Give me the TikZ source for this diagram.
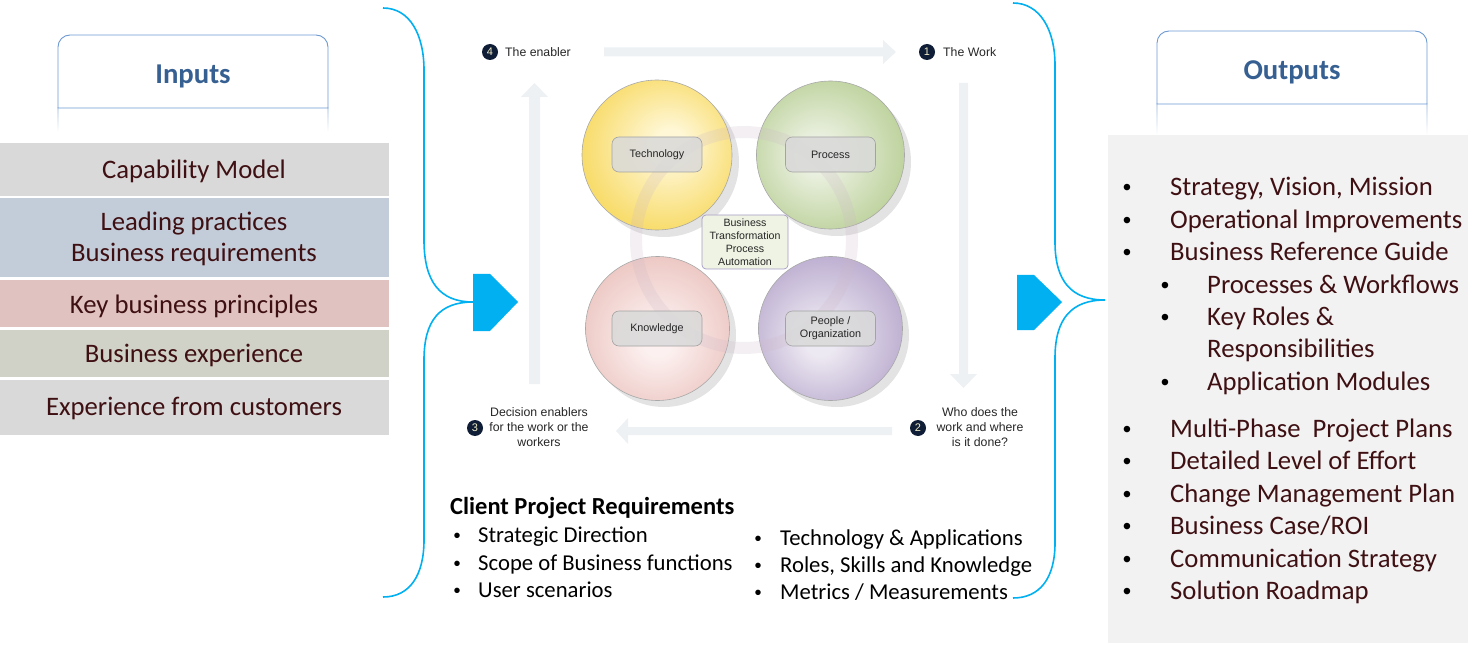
\documentclass[tikz,border=0pt]{standalone}
\usepackage{fontspec}
\setmainfont{Carlito}
\newfontfamily\arialf{Liberation Sans}
\definecolor{bracec}{HTML}{00B0F0}
\definecolor{hdrline}{HTML}{6E9AD2}
\definecolor{hdrfade}{HTML}{D5E1F0}
\definecolor{hdrtext}{HTML}{376092}
\definecolor{maroon}{HTML}{3F1013}
\definecolor{rowA}{HTML}{D9D9D9}
\definecolor{rowB}{HTML}{C3CDD9}
\definecolor{rowC}{HTML}{E0C3C0}
\definecolor{rowD}{HTML}{D0D2C8}
\definecolor{panelc}{HTML}{F2F2F2}
\definecolor{flowc}{HTML}{EDF1F4}
\definecolor{badgec}{HTML}{0F1D36}
\definecolor{badgetxt}{HTML}{F2EFC8}
\definecolor{ringc}{HTML}{CDB8C8}
\definecolor{lbl}{HTML}{D9D9D9}
\definecolor{lblline}{HTML}{A3A3A3}
\definecolor{ctrfill}{HTML}{EEF3E3}
\definecolor{ctrline}{HTML}{A79BC6}
\definecolor{circedge}{HTML}{A8A8A8}
\definecolor{shadowc}{HTML}{D0D0D0}
\definecolor{ylo}{HTML}{FFF7D6}
\definecolor{yhi}{HTML}{F8DC6C}
\definecolor{glo}{HTML}{EDF2E4}
\definecolor{ghi}{HTML}{BFD39F}
\definecolor{plo}{HTML}{FCF1F0}
\definecolor{phi}{HTML}{EDC9C5}
\definecolor{vlo}{HTML}{EDE9F2}
\definecolor{vhi}{HTML}{BFB1D2}
\pgfdeclareradialshading{yball}{\pgfpoint{5bp}{4bp}}{color(0bp)=(ylo); color(5bp)=(ylo); color(27bp)=(yhi); color(50bp)=(yhi)}
\pgfdeclareradialshading{gball}{\pgfpoint{-5bp}{0bp}}{color(0bp)=(glo); color(5bp)=(glo); color(27bp)=(ghi); color(50bp)=(ghi)}
\pgfdeclareradialshading{pball}{\pgfpoint{0bp}{-5bp}}{color(0bp)=(plo); color(5bp)=(plo); color(27bp)=(phi); color(50bp)=(phi)}
\pgfdeclareradialshading{vball}{\pgfpoint{-4bp}{-5bp}}{color(0bp)=(vlo); color(5bp)=(vlo); color(27bp)=(vhi); color(50bp)=(vhi)}
\begin{document}
\begin{tikzpicture}[x=1pt,y=-1pt,
  rowbox/.style={rectangle, inner sep=0, minimum width=389pt, anchor=north west},
  intxt/.style={anchor=base, text=maroon, font=\fontsize{26.7}{31}\selectfont},
  outtxt/.style={anchor=base west, text=maroon, inner sep=0, font=\fontsize{26.7}{31}\selectfont},
  outbul/.style={anchor=base, text=black, inner sep=0, font=\arialf\fontsize{24}{31}\selectfont},
  reqtxt/.style={anchor=base west, inner sep=0, font=\fontsize{22.7}{28}\selectfont},
  reqbul/.style={anchor=base, inner sep=0, font=\arialf\fontsize{20}{28}\selectfont},
  hdrtxt/.style={anchor=base, text=hdrtext, font=\bfseries\fontsize{28.7}{34}\selectfont},
  smalltxt/.style={font=\arialf\fontsize{12.3}{15}\selectfont, text=black!85, inner sep=0, align=center},
  badge/.style={circle, fill=badgec, inner sep=0, minimum size=16pt, text=badgetxt, font=\arialf\fontsize{11}{11}\selectfont},
  ball/.style={circle, inner sep=0, minimum size=#1, draw=circedge, line width=0.6pt},
  shadowball/.style={circle, inner sep=0, minimum size=#1, fill=shadowc, fill opacity=0.6},
  lblbox/.style={rectangle, rounded corners=7pt, minimum width=90pt, minimum height=35pt, fill=lbl, fill opacity=0.85, text opacity=1, draw=lblline, line width=0.6pt, font=\arialf\fontsize{10.8}{13}\selectfont, align=center, text=black!85},
  bracel/.style={draw=bracec, line width=1.6pt},
  flowarrow/.style={fill=flowc}
]
\useasboundingbox (0,0) rectangle (1484,647);

% ---------- Inputs header ----------
\shade[top color=hdrfade, bottom color=white] (57.4,108) rectangle (58.6,132);
\shade[top color=hdrfade, bottom color=white] (327.4,108) rectangle (328.6,132);
\draw[hdrline, fill=white, line width=0.9pt] (58,108) -- (58,60) [rounded corners=12pt] -- (58,35) -- (328,35) -- (328,60) [sharp corners] -- (328,108) -- cycle;
\node[hdrtxt] (inhdr) at (193,83.2) {Inputs};

% ---------- Input rows ----------
\node[rowbox, fill=rowA, minimum height=53pt] (row1) at (0,143) {};
\node[rowbox, fill=rowB, minimum height=79pt] (row2) at (0,198) {};
\node[rowbox, fill=rowC, minimum height=47pt] (row3) at (0,280) {};
\node[rowbox, fill=rowD, minimum height=47pt] (row4) at (0,330) {};
\node[rowbox, fill=rowA, minimum height=55pt] (row5) at (0,380) {};
\node[intxt] (t1) at (194,178.6) {Capability Model};
\node[intxt] (t2a) at (194,230.6) {Leading practices};
\node[intxt] (t2b) at (194,261.6) {Business requirements};
\node[intxt] (t3) at (194,313.6) {Key business principles};
\node[intxt] (t4) at (194,362.6) {Business experience};
\node[intxt] (t5) at (194,415.6) {Experience from customers};

% ---------- Outputs header and panel ----------
\shade[top color=hdrfade, bottom color=white] (1156.4,104) rectangle (1157.6,135);
\shade[top color=hdrfade, bottom color=white] (1426.4,104) rectangle (1427.6,135);
\draw[hdrline, fill=white, line width=0.9pt] (1157,104) -- (1157,60) [rounded corners=12pt] -- (1157,31) -- (1427,31) -- (1427,60) [sharp corners] -- (1427,104) -- cycle;
\node[hdrtxt] (outhdr) at (1292,79.2) {Outputs};
\node[rectangle, fill=panelc, inner sep=0, minimum width=360pt, minimum height=508pt, anchor=north west] (panel) at (1108,135) {};

\foreach \y/\t [count=\i] in {187/{Strategy, Vision, Mission}, 220/{Operational Improvements}, 252/{Business Reference Guide}, 429/{Multi-Phase\ \ Project Plans}, 461/{Detailed Level of Effort}, 494/{Change Management Plan}, 526/{Business Case/ROI}, 559/{Communication Strategy}, 591/{Solution Roadmap}}{
  \node[outbul] (ob\i) at (1127,\y+8.6) {•};
  \node[outtxt] (ot\i) at (1170,\y+8.6) {\t};
}
\foreach \y/\t [count=\i] in {285/{Processes \& Workflows}, 317/{Key Roles \&}, 382/{Application Modules}}{
  \node[outbul] (sb\i) at (1165,\y+8.6) {•};
  \node[outtxt] (st\i) at (1207,\y+8.6) {\t};
}
\node[outtxt] (st4) at (1207,349+8.6) {Responsibilities};

% ---------- Braces and chevrons ----------
\draw[bracel] (383,8) .. controls (410,8) and (424,35) .. (424,70) -- (424,240) .. controls (424,282) and (440,302) .. (473,302);
\draw[bracel] (473,302) .. controls (440,302) and (424,320) .. (424,360) -- (424,540) .. controls (424,575) and (410,597) .. (383,597);
\fill[bracec] (473,274) -- (490,274) -- (518,302) -- (490,331) -- (473,331) -- cycle;

\draw[bracel] (1013,3) .. controls (1040,3) and (1055,30) .. (1055,65) -- (1055,242) .. controls (1055,282) and (1072,300) .. (1105,300);
\draw[bracel] (1105,300) .. controls (1072,300) and (1055,318) .. (1055,358) -- (1055,543) .. controls (1055,578) and (1040,598) .. (1013,598);
\fill[bracec] (1017,275) -- (1034,275) -- (1062,302) -- (1034,330) -- (1017,330) -- cycle;

% ---------- Flow arrows ----------
\fill[flowarrow] (604,47.5) -- (883,47.5) -- (883,40) -- (896,52) -- (883,64) -- (883,56.5) -- (604,56.5) -- cycle;
\fill[flowarrow] (959,83) -- (968,83) -- (968,374) -- (977,374) -- (963.5,388) -- (950,374) -- (959,374) -- cycle;
\fill[flowarrow] (892,427) -- (628,427) -- (628,418) -- (616,431) -- (628,444) -- (628,435) -- (892,435) -- cycle;
\fill[flowarrow] (529,384) -- (529,97) -- (521,97) -- (534.5,83) -- (548,97) -- (540,97) -- (540,384) -- cycle;

% ---------- Badges and step labels ----------
\node[badge] (b4) at (490,52) {4};
\node[smalltxt, anchor=base west] (l4) at (505,56.4) {The enabler};
\node[badge] (b1) at (927,52) {1};
\node[smalltxt, anchor=base west] (l1) at (943,56.4) {The Work};
\node[badge] (b3) at (475,428) {3};
\node[smalltxt] (l3) at (539,427) {Decision enablers\\for the work or the\\workers};
\node[badge] (b2) at (918,428) {2};
\node[smalltxt] (l2) at (980,427) {Who does the\\work and where\\is it done?};

% ---------- Circles ----------
\node[shadowball=150pt] (techsh) at (664,162) {};
\node[shadowball=148pt] (procsh) at (837,162) {};
\node[shadowball=144pt] (knowsh) at (664,335) {};
\node[shadowball=144pt] (peopsh) at (837,335) {};
\node[ball=150pt, shade, shading=yball] (tech) at (657,155) {};
\node[ball=148pt, shade, shading=gball] (proc) at (830.5,155) {};
\node[ball=144pt, shade, shading=pball] (know) at (657.5,328.5) {};
\node[ball=144pt, shade, shading=vball] (peop) at (830.5,328.5) {};
\node[circle, inner sep=0, minimum size=216pt, draw=ringc, draw opacity=0.22, line width=12pt] (ring) at (744,240) {};
\node[lblbox] (techl) at (657,154.5) {Technology};
\node[lblbox] (procl) at (830.5,154.5) {Process};
\node[lblbox] (knowl) at (657,328.5) {Knowledge};
\node[lblbox] (peopl) at (830.5,328.5) {People /\\Organization};
\node[rectangle, rounded corners=4pt, minimum width=86pt, minimum height=54pt, inner sep=0, fill=ctrfill, draw=ctrline, line width=0.7pt, align=center, text=black!85, font=\arialf\fontsize{10.6}{13}\selectfont] (ctr) at (745,242) {Business\\Transformation\\Process\\Automation};

% ---------- Client Project Requirements ----------
\node[reqtxt, font=\bfseries\fontsize{24.5}{28}\selectfont] (reqt) at (450,514) {Client Project Requirements};
\foreach \y/\t [count=\i] in {535/{Strategic Direction}, 563/{Scope of Business functions}, 590/{User scenarios}}{
  \node[reqbul] (rlb\i) at (457,\y+7.3) {•};
  \node[reqtxt] (rl\i) at (478,\y+7.3) {\t};
}
\foreach \y/\t [count=\i] in {538/{Technology \& Applications}, 565/{Roles, Skills and Knowledge}, 592/{Metrics / Measurements}}{
  \node[reqbul] (rrb\i) at (758,\y+7.3) {•};
  \node[reqtxt] (rr\i) at (780,\y+7.3) {\t};
}
\end{tikzpicture}
\end{document}
